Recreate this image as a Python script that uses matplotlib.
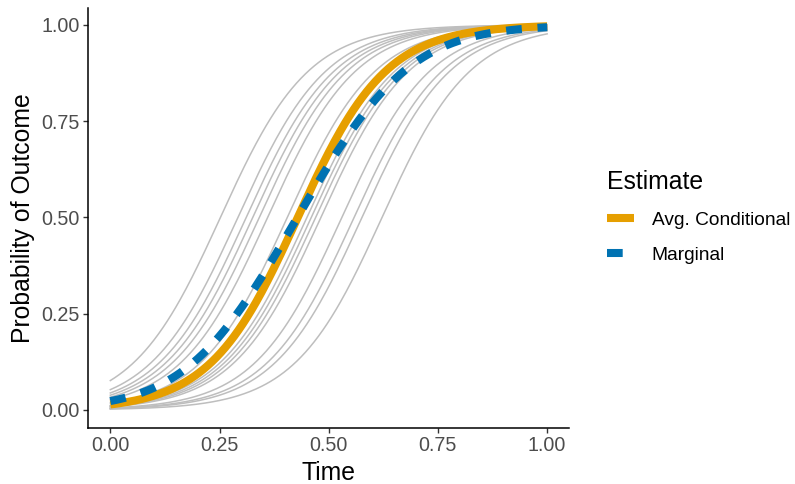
import numpy as np
import matplotlib.pyplot as plt

plt.rcParams['font.family'] = ['Liberation Sans', 'DejaVu Sans']

# per-subject time at which the conditional probability reaches 0.5
subject_t50 = [0.252, 0.292, 0.311, 0.326, 0.341, 0.360, 0.405, 0.450,
               0.460, 0.470, 0.482, 0.530, 0.558, 0.576, 0.622]
# common slope on the logit scale
slope = 9.9

tick_vals = [0.00, 0.25, 0.50, 0.75, 1.00]
tick_labels = ['0.00', '0.25', '0.50', '0.75', '1.00']
series_names = ['Avg. Conditional', 'Marginal']


def inv_logit(x):
    return 1.0 / (1.0 + np.exp(-x))


times = np.linspace(0, 1, 301)
cond = np.array([inv_logit(slope * (times - m)) for m in subject_t50])
avg_cond = inv_logit(slope * (times - np.mean(subject_t50)))
marginal = cond.mean(axis=0)

fig = plt.figure(figsize=(7.95, 4.84), dpi=100)
ax = fig.add_axes([0.1113, 0.1157, 0.6044, 0.8678])

for row in cond:
    ax.plot(times, row, color='#BEBEBE', lw=1.1, zorder=1)
l1, = ax.plot(times, avg_cond, color='#E69F00', lw=5.8,
              solid_capstyle='butt', zorder=2)
l2, = ax.plot(times, marginal, color='#0072B2', lw=5.8,
              dashes=(1.95, 1.95), dash_capstyle='butt', zorder=3)

ax.set_xlim(-0.05, 1.05)
ax.set_ylim(-0.047, 1.044)
ax.set_xticks(tick_vals, tick_labels)
ax.set_yticks(tick_vals, tick_labels)
for s in ['top', 'right']:
    ax.spines[s].set_visible(False)
for s in ['left', 'bottom']:
    ax.spines[s].set_linewidth(1.1)
    ax.spines[s].set_color('black')
ax.tick_params(length=3.6, width=1.0, color='#333333',
               labelcolor='#4D4D4D', labelsize=14.2, pad=2.5)

ax.set_xlabel('Time', fontsize=17.8, labelpad=4)
ax.set_ylabel('Probability of Outcome', fontsize=17.8, labelpad=5)

leg = fig.legend(handles=[l1, l2], labels=series_names, title='Estimate',
                 loc='upper left', bbox_to_anchor=(0.764, 0.649),
                 frameon=False, fontsize=13.8, title_fontsize=17.8,
                 handlelength=1.4, handletextpad=0.92, labelspacing=0.91,
                 borderpad=0, borderaxespad=0, alignment='left')

fig.savefig('out.png', dpi=100)
